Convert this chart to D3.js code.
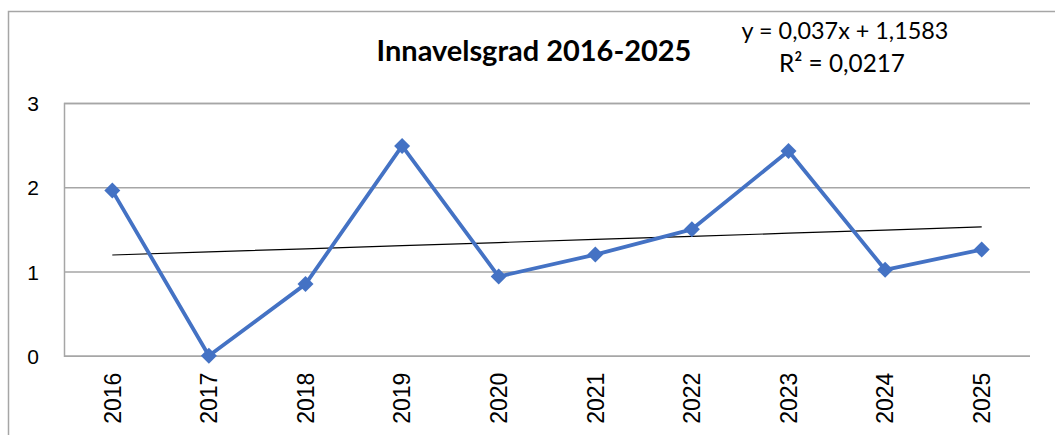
<!DOCTYPE html>
<html>
<head>
<meta charset="utf-8">
<script src="https://cdn.jsdelivr.net/npm/d3@7"></script>
<style>
  html, body { margin: 0; padding: 0; background: #fff; }
  svg { display: block; }
</style>
</head>
<body>
<svg id="chart" width="1055" height="435"></svg>
<script>
const years = ["2016","2017","2018","2019","2020","2021","2022","2023","2024","2025"];
const values = [1.96, 0.0, 0.85, 2.49, 0.94, 1.20, 1.50, 2.43, 1.02, 1.26];
const yTicks = [0, 1, 2, 3];
const trendSlope = 0.037;
const trendIntercept = 1.1583;
const titleText = "Innavelsgrad 2016-2025";
const eqLine1 = "y = 0,037x + 1,1583";
const eqLine2 = "R² = 0,0217";

const svg = d3.select("#chart");
const W = 1055, H = 435;
const plot = { left: 64, right: 1030, top: 103, bottom: 355.7 };

// outer chart border
svg.append("rect")
  .attr("x", 8.5).attr("y", 11.5)
  .attr("width", W + 20).attr("height", H + 20)
  .attr("fill", "none").attr("stroke", "#a6a6a6").attr("stroke-width", 1.5);

const x = d3.scaleBand().domain(years).range([plot.left, plot.right]).padding(0);
const y = d3.scaleLinear().domain([0, 3]).range([plot.bottom, plot.top]);
const cx = d => x(d) + x.bandwidth() / 2;

// gridlines
const yAxis = d3.axisLeft(y).tickValues(yTicks).tickSize(-(plot.right - plot.left)).tickFormat(d => d);
const gy = svg.append("g").attr("transform", `translate(${plot.left},0)`).call(yAxis);
gy.select(".domain").attr("stroke", "#a6a6a6").attr("stroke-width", 1.5);
gy.selectAll(".tick line").attr("stroke", "#a6a6a6").attr("stroke-width", 1.5);
gy.selectAll(".tick text")
  .attr("x", -25).attr("dy", "0.36em")
  .attr("font-family", "'Liberation Sans', Arial, sans-serif")
  .attr("font-size", 21).attr("fill", "#000");

// x axis labels
const xAxis = d3.axisBottom(x).tickSize(0);
const gx = svg.append("g").attr("transform", `translate(0,${plot.bottom})`).call(xAxis);
gx.select(".domain").remove();
gx.selectAll(".tick text")
  .attr("transform", "rotate(-90)")
  .attr("x", -17).attr("y", 0).attr("dy", "0.36em")
  .attr("text-anchor", "end")
  .attr("font-family", "'Liberation Sans', Arial, sans-serif")
  .attr("font-size", 23).attr("fill", "#000");

// trendline
const trend = years.map((yr, i) => ({ yr, v: trendSlope * (i + 1) + trendIntercept }));
svg.append("path")
  .datum(trend)
  .attr("fill", "none").attr("stroke", "#000").attr("stroke-width", 1.2)
  .attr("d", d3.line().x(d => cx(d.yr)).y(d => y(d.v)));

// data line
const data = years.map((yr, i) => ({ yr, v: values[i] }));
svg.append("path")
  .datum(data)
  .attr("fill", "none").attr("stroke", "#4472C4").attr("stroke-width", 3.8)
  .attr("stroke-linejoin", "round")
  .attr("d", d3.line().x(d => cx(d.yr)).y(d => y(d.v)));

const r = 8;
svg.selectAll(".marker").data(data).enter().append("path")
  .attr("class", "marker")
  .attr("d", d => `M${cx(d.yr)},${y(d.v) - r}L${cx(d.yr) + r},${y(d.v)}L${cx(d.yr)},${y(d.v) + r}L${cx(d.yr) - r},${y(d.v)}Z`)
  .attr("fill", "#4472C4");

// text fitting helper
function fitText(sel, targetWidth) {
  const w = sel.node().getComputedTextLength();
  const fs = parseFloat(sel.attr("font-size"));
  sel.attr("font-size", fs * targetWidth / w);
}

const title = svg.append("text")
  .attr("x", 534).attr("y", 61)
  .attr("text-anchor", "middle")
  .attr("font-family", "Lato, 'Open Sans', sans-serif")
  .attr("font-weight", "bold").attr("font-size", 24).attr("fill", "#000")
  .text(titleText);
fitText(title, 315);

const e1 = svg.append("text")
  .attr("x", 845).attr("y", 39)
  .attr("text-anchor", "middle")
  .attr("font-family", "Lato, 'Open Sans', sans-serif")
  .attr("font-size", 20).attr("fill", "#000")
  .text(eqLine1);
fitText(e1, 207);

const e2 = svg.append("text")
  .attr("x", 842).attr("y", 72)
  .attr("text-anchor", "middle")
  .attr("font-family", "Lato, 'Open Sans', sans-serif")
  .attr("font-size", 20).attr("fill", "#000")
  .text(eqLine2);
fitText(e2, 126);
</script>
</body>
</html>
